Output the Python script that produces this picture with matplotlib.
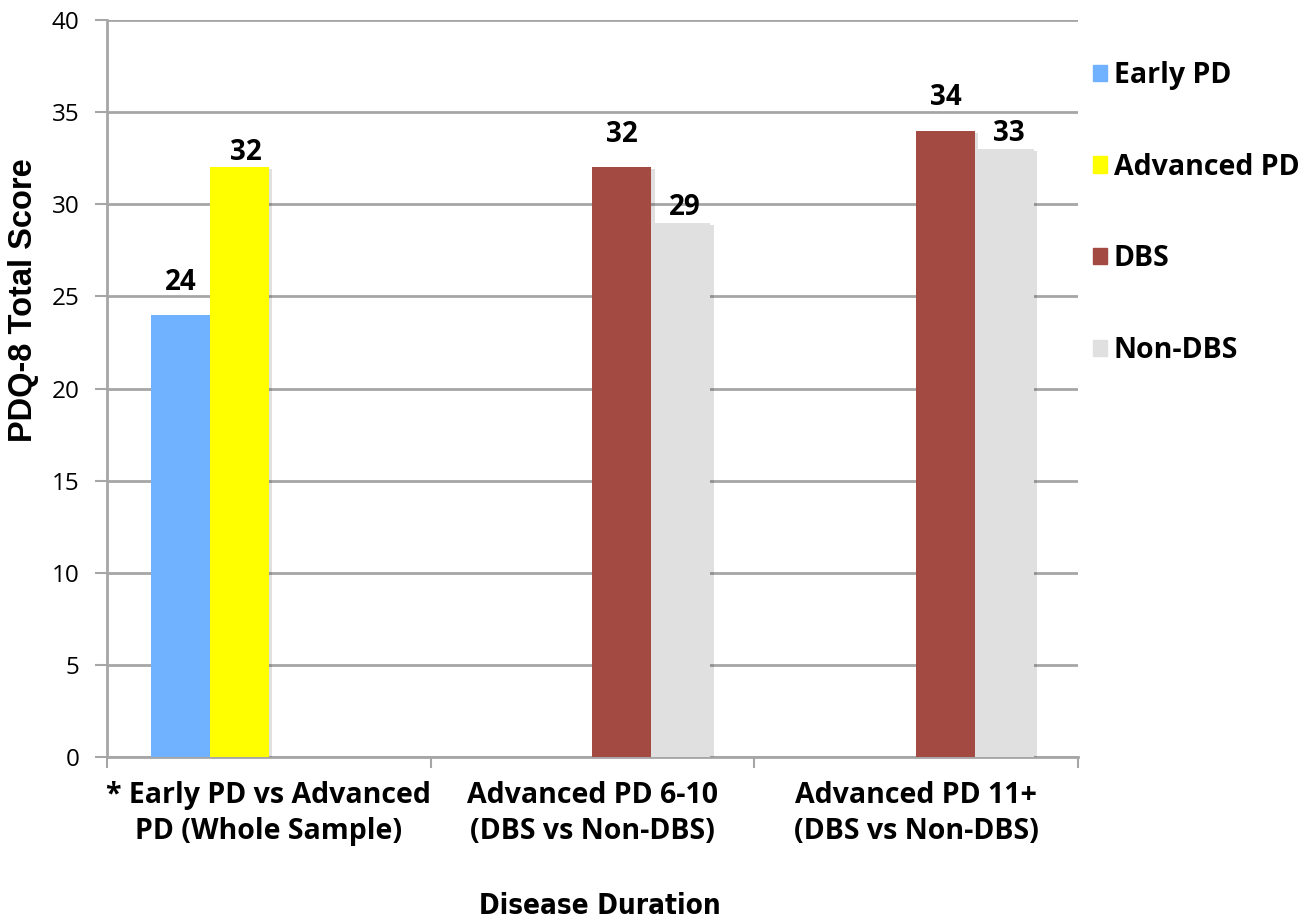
import numpy as np
import matplotlib
matplotlib.use("Agg")
import matplotlib.pyplot as plt
from matplotlib import patheffects as pe
from matplotlib.transforms import offset_copy

# Data
groups = ["* Early PD vs Advanced\nPD (Whole Sample)",
          "Advanced PD 6-10\n(DBS vs Non-DBS)",
          "Advanced PD 11+\n(DBS vs Non-DBS)"]
series_names = ["Early PD", "Advanced PD", "DBS", "Non-DBS"]
early_pd = [24, np.nan, np.nan]
advanced_pd = [32, np.nan, np.nan]
dbs = [np.nan, 32, 34]
non_dbs = [np.nan, 29, 33]
series_values = [early_pd, advanced_pd, dbs, non_dbs]
colors = ["#70B2FF", "#FFFF00", "#A34A43", "#E0E0E0"]
y_ticks = [0, 5, 10, 15, 20, 25, 30, 35, 40]

# label placement per series (points): left bars sit higher, right bars nudge right
label_dy = [13, 0.5, 13, 0.5]
label_dx = [0, 5, 0, 3]

W, H = 1309, 922
fig = plt.figure(figsize=(W / 100, H / 100), dpi=100)
ax = fig.add_axes([107 / W, 1 - 757 / H, (1078 - 107) / W, (757 - 20) / H])

grid_c = "#A6A6A6"
n = len(series_values)
bar_w = 1 / 5.5
x = np.arange(len(groups))
shadow = [pe.SimplePatchShadow(offset=(2.5, -1.5), shadow_rgbFace="#000000", alpha=0.12), pe.Normal()]

for i, (vals, col, name) in enumerate(zip(series_values, colors, series_names)):
    offs = (i - (n - 1) / 2) * bar_w
    bars = ax.bar(x + offs, vals, width=bar_w, color=col, label=name,
                  zorder=3, linewidth=0)
    tr = offset_copy(ax.transData, fig=fig, x=label_dx[i], y=label_dy[i], units="points")
    for b, v in zip(bars, vals):
        if np.isnan(v):
            continue
        b.set_path_effects(shadow)
        ax.text(b.get_x() + b.get_width() / 2, v, f"{v:g}", transform=tr,
                ha="center", va="bottom", fontsize=20, fontweight="bold",
                family="Open Sans", color="black", zorder=4)

ax.set_xlim(-0.5, len(groups) - 0.5)
ax.set_ylim(0, 40)
ax.set_yticks(y_ticks)
ax.set_yticklabels([str(t) for t in y_ticks], fontsize=17.5, family="Open Sans")
ax.yaxis.grid(True, color=grid_c, linewidth=2, zorder=0)
ax.set_axisbelow(True)

# Category boundaries as tick marks
ax.set_xticks(np.arange(len(groups) + 1) - 0.5)
ax.set_xticklabels([])
ax.tick_params(axis="x", length=8, width=1.5, color=grid_c, direction="out")
ax.tick_params(axis="y", length=9, width=1.5, color=grid_c, direction="out", pad=11)
for i, g in enumerate(groups):
    ax.text(i, -1.3, g, ha="center", va="top", fontsize=20.5, fontweight="bold",
            family="Open Sans", linespacing=1.3, transform=ax.transData)

for s in ["top", "right"]:
    ax.spines[s].set_visible(False)
for s in ["left", "bottom"]:
    ax.spines[s].set_color(grid_c)
    ax.spines[s].set_linewidth(2)

fig.text(24 / W, 1 - 300 / H, "PDQ-8 Total Score", rotation=90, ha="center",
         va="center", fontsize=23.5, fontweight="bold", family="Liberation Sans")
fig.text(600 / W, 1 - 906 / H, "Disease Duration", ha="center", va="center",
         fontsize=20, fontweight="heavy", family="DejaVu Sans", stretch="condensed")

leg = fig.legend(handles=[plt.Rectangle((0, 0), 1, 1, color=c) for c in colors],
                 labels=series_names, loc="upper left",
                 bbox_to_anchor=(1093 / W, 1 - 61 / H), frameon=False,
                 borderpad=0, borderaxespad=0,
                 handlelength=0.5, handleheight=0.5, handletextpad=0.22,
                 labelspacing=2.2, prop={"family": "Open Sans", "weight": "bold", "size": 20.5})

fig.savefig("out.png", dpi=100)
